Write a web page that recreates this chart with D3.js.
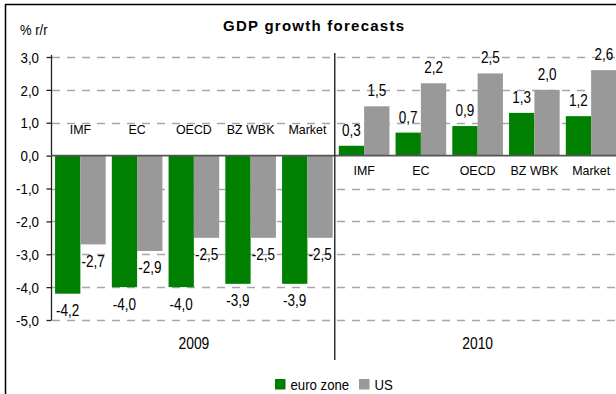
<!DOCTYPE html>
<html>
<head>
<meta charset="utf-8">
<script src="https://cdn.jsdelivr.net/npm/d3@7/dist/d3.min.js"></script>
<style>
  html, body { margin: 0; padding: 0; background: #fff; }
  svg { display: block; }
  text { font-family: "Liberation Sans", Arial, sans-serif; fill: #000; }
</style>
</head>
<body>
<svg id="chart" width="616" height="394"></svg>
<script>
// Forecast sources and years
const sources = ["IMF", "EC", "OECD", "BZ WBK", "Market"];
const years = ["2009", "2010"];

// GDP growth forecasts, % y/y
const euroZone2009 = [-4.2, -4.0, -4.0, -3.9, -3.9];
const us2009 = [-2.7, -2.9, -2.5, -2.5, -2.5];
const euroZone2010 = [0.3, 0.7, 0.9, 1.3, 1.2];
const us2010 = [1.5, 2.2, 2.5, 2.0, 2.6];

const seriesNames = ["euro zone", "US"];
const seriesColors = ["#008000", "#999999"];
const yTicks = [3, 2, 1, 0, -1, -2, -3, -4, -5];

const byYear = {
  "2009": [euroZone2009, us2009],
  "2010": [euroZone2010, us2010]
};

// One row per (year, source) category
const rows = [];
years.forEach(yr => {
  sources.forEach((s, i) => {
    rows.push({ key: yr + "|" + s, year: yr, source: s,
                values: byYear[yr].map(arr => arr[i]) });
  });
});

const svg = d3.select("#chart");
const fmt = v => d3.format(".1f")(v).replace(".", ",").replace("−", "-");

const x = d3.scaleBand()
  .domain(rows.map(r => r.key))
  .range([52, 619.5])
  .paddingInner(0.108)
  .paddingOuter(0.054);

const xInner = d3.scaleBand()
  .domain(d3.range(seriesNames.length))
  .range([0, x.bandwidth()]);

const y = d3.scaleLinear().domain([-5, 3]).range([320, 57]);

// Helper: text squeezed horizontally
function sText(g, px, py, str, size, sx, anchor) {
  return g.append("text")
    .attr("transform", `translate(${px},${py}) scale(${sx},1)`)
    .attr("text-anchor", anchor || "middle")
    .style("font-size", size + "px")
    .text(str);
}

// Outer frame (top and left edges visible)
svg.append("line").attr("x1", 5).attr("x2", 616).attr("y1", 4.5).attr("y2", 4.5)
  .attr("stroke", "#000").attr("stroke-width", 1.5);
svg.append("line").attr("x1", 5.5).attr("x2", 5.5).attr("y1", 4).attr("y2", 394)
  .attr("stroke", "#000").attr("stroke-width", 1.5);

// Title
svg.append("text")
  .attr("x", 223).attr("y", 30.5)
  .style("font-size", "15px").style("font-weight", "bold")
  .style("letter-spacing", "1.25px")
  .text("GDP growth forecasts");

// Unit label
sText(svg, 20, 35, "% r/r", 14.5, 0.9, "start");

// Dashed gridlines
svg.append("g").selectAll("line")
  .data(yTicks.filter(t => t !== 0))
  .join("line")
  .attr("x1", 52).attr("x2", 616)
  .attr("y1", d => Math.round(y(d)) + 0.5).attr("y2", d => Math.round(y(d)) + 0.5)
  .attr("stroke", "#a6a6a6").attr("stroke-width", 1.3)
  .attr("stroke-dasharray", "8,7");

// Y axis
const yAxis = d3.axisLeft(y).tickValues(yTicks).tickSize(5).tickPadding(6)
  .tickFormat(fmt);
const ya = svg.append("g").attr("transform", "translate(51.5,0)").call(yAxis);
ya.select(".domain").attr("d", `M0,55V${y(-5)}`).attr("stroke", "#222").attr("stroke-width", 1.3);
ya.selectAll(".tick line").attr("stroke", "#222").attr("stroke-width", 1.3);
ya.selectAll(".tick text").style("font-size", "14.5px")
  .attr("transform", "scale(0.92,1)")
  .attr("x", -12.5 / 0.92)
  .attr("dy", "0.36em")
  .style("font-family", '"Liberation Sans", Arial, sans-serif').attr("fill", "#000");

// Bars
const groups = svg.append("g").selectAll("g")
  .data(rows).join("g")
  .attr("transform", d => `translate(${x(d.key)},0)`);

groups.selectAll("rect")
  .data(d => d.values.map((v, i) => ({ v, i })))
  .join("rect")
  .attr("x", d => xInner(d.i))
  .attr("width", xInner.bandwidth())
  .attr("y", d => y(Math.max(0, d.v)))
  .attr("height", d => Math.abs(y(d.v) - y(0)))
  .attr("fill", d => seriesColors[d.i]);

// Zero line
svg.append("line").attr("x1", 51).attr("x2", 616)
  .attr("y1", y(0)).attr("y2", y(0))
  .attr("stroke", "#555").attr("stroke-width", 1.8);

// Value labels
groups.each(function (d) {
  const g = d3.select(this);
  d.values.forEach((v, i) => {
    const cx = xInner(i) + xInner.bandwidth() / 2;
    const ty = v < 0 ? y(v) + 22.5 : y(v) - 10;
    sText(g, cx, ty, fmt(v), 16.5, 0.82);
  });
  // Source label on the opposite side of the zero line
  const neg = d3.min(d.values) < 0;
  sText(g, x.bandwidth() / 2, neg ? y(0) - 22 : y(0) + 19.5, d.source, 13.5, 0.92);
});

// Year separator and year labels
const sepX = x(years[1] + "|" + sources[0]) - x.step() * x.paddingInner() / 2 - 1;
svg.append("line").attr("x1", sepX).attr("x2", sepX).attr("y1", 53).attr("y2", 360)
  .attr("stroke", "#333").attr("stroke-width", 1.5);

years.forEach(yr => {
  const keys = rows.filter(r => r.year === yr).map(r => r.key);
  const x0 = x(keys[0]) - x.step() * x.paddingInner() / 2;
  const x1 = x(keys[keys.length - 1]) + x.bandwidth() + x.step() * x.paddingInner() / 2;
  sText(svg, (x0 + x1) / 2, 348.5, yr, 16.5, 0.84);
});

// Legend
const legend = svg.append("g");
const legendX = [275, 359];
seriesNames.forEach((name, i) => {
  legend.append("rect").attr("x", legendX[i]).attr("y", 379)
    .attr("width", 10.5).attr("height", 10.5).attr("fill", seriesColors[i]);
  sText(legend, legendX[i] + 15.5, 390, name, 15, 0.88, "start");
});
</script>
</body>
</html>
